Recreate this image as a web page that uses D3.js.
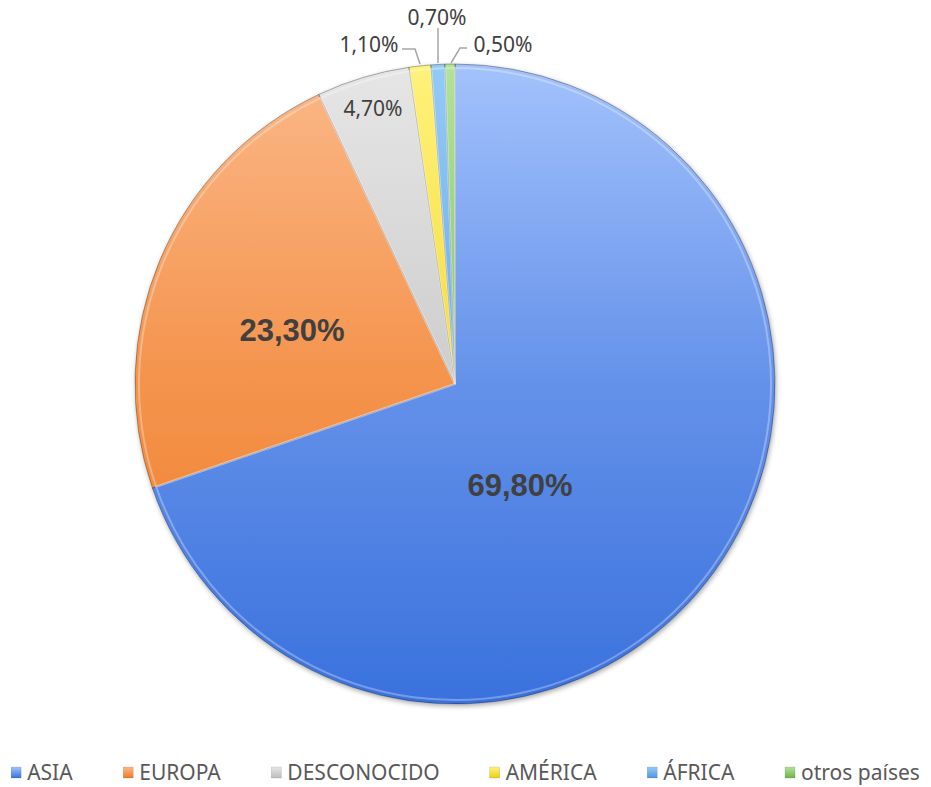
<!DOCTYPE html>
<html><head><meta charset="utf-8">
<script src="https://cdn.jsdelivr.net/npm/d3@7"></script>
<style>body{margin:0;background:#fff}svg{display:block}</style>
</head><body>
<svg id="c" width="931" height="787"></svg>
<script>
const categories = ["ASIA","EUROPA","DESCONOCIDO","AMÉRICA","ÁFRICA","otros países"];
const values = [69.8, 23.3, 4.7, 1.1, 0.7, 0.5];
const labels = ["69,80%","23,30%","4,70%","1,10%","0,70%","0,50%"];
const topColors = ["#a3c2fc","#fbb888","#e6e6e6","#fff27a","#93cbf7","#b3e29a"];
const botColors = ["#3a71dd","#ef7a24","#bdbdbd","#f0cd14","#4f97e0","#6fb24c"];

const W = 931, H = 787;
const cx = 455, cy = 384, R = 320;
const svg = d3.select("#c");
const defs = svg.append("defs");

categories.forEach((c,i)=>{
  const g = defs.append("linearGradient").attr("id","g"+i)
    .attr("gradientUnits","userSpaceOnUse").attr("x1",0).attr("x2",0)
    .attr("y1",-R).attr("y2",R);
  g.append("stop").attr("offset","0").attr("stop-color",topColors[i]);
  g.append("stop").attr("offset","0.5").attr("stop-color",d3.interpolateRgb(topColors[i],botColors[i])(0.6));
  g.append("stop").attr("offset","1").attr("stop-color",botColors[i]);
  const lg = defs.append("linearGradient").attr("id","lg"+i)
    .attr("x1",0).attr("x2",0).attr("y1",0).attr("y2",1);
  lg.append("stop").attr("offset","0").attr("stop-color",topColors[i]);
  lg.append("stop").attr("offset","1").attr("stop-color",botColors[i]);
});
const f = defs.append("filter").attr("id","sh").attr("x","-10%").attr("y","-10%").attr("width","120%").attr("height","120%");
f.append("feDropShadow").attr("dx",1).attr("dy",2).attr("stdDeviation",2.5).attr("flood-color","#000").attr("flood-opacity",0.35);

const pie = d3.pie().sort(null).value(d=>d)(values);
const arc = d3.arc().innerRadius(0).outerRadius(R);
const inner = d3.arc().innerRadius(0).outerRadius(R-4);

const gp = svg.append("g").attr("transform",`translate(${cx},${cy})`);
gp.append("g").attr("filter","url(#sh)").selectAll("path").data(pie).join("path")
  .attr("d",arc).attr("fill",(d,i)=>`url(#g${i})`)
  .attr("stroke","rgba(0,0,0,0.3)").attr("stroke-width",1);
// bevel highlight
gp.selectAll("path.hl").data(pie).join("path").attr("class","hl")
  .attr("d",inner).attr("fill","none")
  .attr("stroke","rgba(255,255,255,0.3)").attr("stroke-width",2);

// inside labels (offsets relative to pie center)
const insideOff = [[65,101],[-163,-54],[-82,-276]];
insideOff.forEach((o,i)=>{
  gp.append("text").attr("x",o[0]).attr("y",o[1])
    .attr("text-anchor","middle").attr("dominant-baseline","central")
    .attr("font-family", i<2 ? "Liberation Sans, Arial, sans-serif" : "Noto Sans, sans-serif")
    .attr("font-weight", i<2 ? "bold" : "normal")
    .attr("font-size", i<2 ? 31 : 21)
    .attr("fill","#404040").text(labels[i]);
});

// outside labels with leader lines
const outside = [
  {i:3, tx:-86, ty:-340, pts:[[-53,-335],[-40,-335],[-35,-320]]},
  {i:4, tx:-18, ty:-367, pts:[[-17,-356],[-17,-321]]},
  {i:5, tx:48,  ty:-340, pts:[[12,-336],[5,-336],[-4,-321]]}
];
outside.forEach(o=>{
  gp.append("polyline").attr("points",o.pts.map(p=>p.join(",")).join(" "))
    .attr("fill","none").attr("stroke","#a6a6a6").attr("stroke-width",1.5);
  gp.append("text").attr("x",o.tx).attr("y",o.ty)
    .attr("text-anchor","middle").attr("dominant-baseline","central")
    .attr("font-family","Noto Sans, sans-serif").attr("font-size",21)
    .attr("fill","#404040").text(labels[o.i]);
});

// legend
const lg = svg.append("g");
const items = lg.selectAll("g").data(categories).join("g");
items.append("rect").attr("width",10).attr("height",11).attr("y",767)
  .attr("fill",(d,i)=>`url(#lg${i})`).attr("stroke","rgba(0,0,0,0.2)").attr("stroke-width",0.5);
items.append("text").attr("x",16).attr("y",780)
  .attr("font-family","Noto Sans, sans-serif").attr("font-size",21)
  .attr("fill","#595959").text(d=>d);
let widths = [];
items.each(function(){ widths.push(this.getBBox().width); });
const gap = 50;
const total = d3.sum(widths) + gap*(widths.length-1);
let x = (W-total)/2;
items.each(function(d,i){ d3.select(this).attr("transform",`translate(${x},0)`); x += widths[i]+gap; });
</script>
</body></html>
